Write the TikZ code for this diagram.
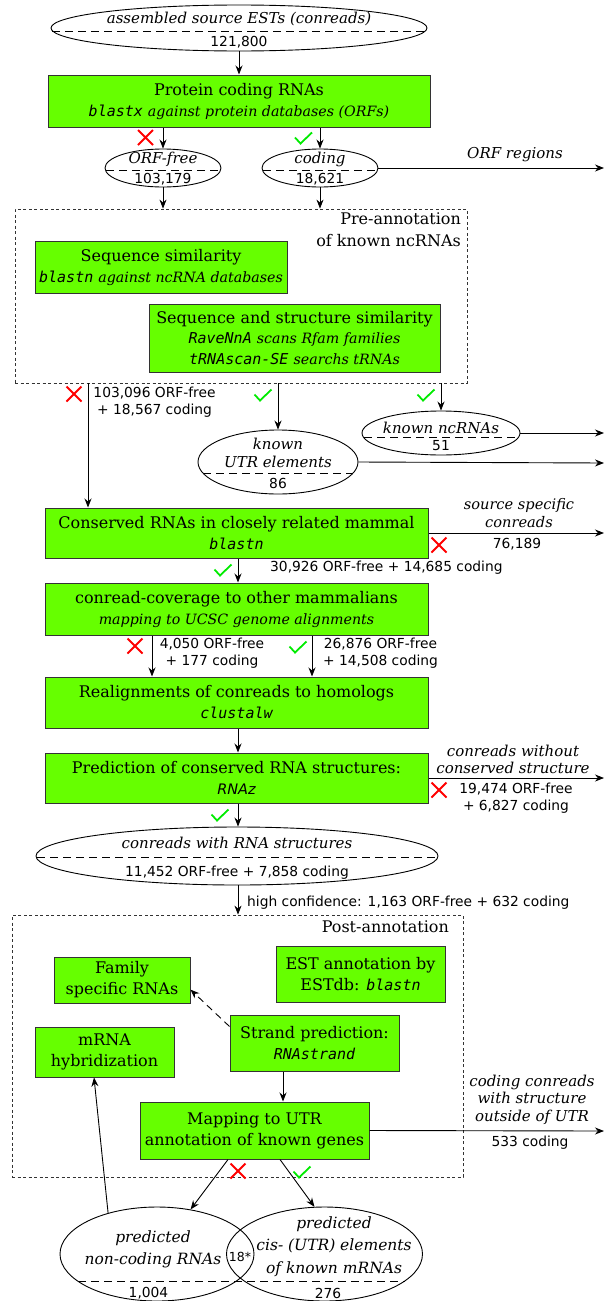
\documentclass[tikz,border=0pt]{standalone}
\usepackage{fontspec}
\setmainfont{DejaVu Serif}
\setsansfont{DejaVu Sans}
\setmonofont{DejaVu Sans Mono}
\usetikzlibrary{shapes.geometric,arrows.meta}
\definecolor{boxgreen}{RGB}{102,255,0}
\definecolor{xred}{RGB}{255,0,0}
\definecolor{okgreen}{RGB}{0,235,0}
\newcommand\tool[1]{{\fontsize{15}{18}\selectfont\ttfamily\itshape #1}}
\newcommand\subit[1]{{\fontsize{14.2}{18}\selectfont\itshape #1}}
\tikzset{
  gbox/.style={draw=black!80, fill=boxgreen, line width=1pt, align=center, inner sep=0pt,
    font=\fontsize{16}{21}\selectfont},
  ell/.style={draw, ellipse, line width=0.9pt, inner sep=0pt},
  frame/.style={draw=black!80, line width=0.8pt, dash pattern=on 3pt off 2.5pt},
  arr/.style={-{Stealth[length=9pt,width=7pt]}, line width=0.9pt},
  dashln/.style={line width=0.9pt, dash pattern=on 8pt off 5pt},
  itl/.style={font=\fontsize{15}{18}\selectfont\itshape, align=center, inner sep=0pt},
  num/.style={font=\fontsize{13.8}{17}\selectfont\sffamily, align=center, inner sep=0pt},
  lbl/.style={font=\fontsize{16}{22}\selectfont, align=right, inner sep=0pt},
  xmk/.pic={\draw[xred, line width=1.8pt] (-7.5,-7.5) -- (7.5,7.5) (-7.5,7.5) -- (7.5,-7.5);},
  okmk/.pic={\draw[okgreen, line width=1.8pt, line join=miter] (-8.5,-0.5) -- (-3,5.5) -- (8.5,-5.5);}
}
\begin{document}
\begin{tikzpicture}[x=1pt,y=-1pt]
\useasboundingbox (0,0) rectangle (604,1301);

% ---------- top ----------
\node[ell, minimum width=376, minimum height=46] (src) at (239,28) {};
\node[itl] (srct) at (239,19) {assembled source ESTs (conreads)};
\node[num] (srcn) at (239,42) {121,800};
\coordinate (srcdl) at (52,31); \coordinate (srcdr) at (426,31);
\draw[dashln] (srcdl) -- (srcdr);

\node[gbox, minimum width=382, minimum height=52] (prot) at (239,101)
  {Protein coding RNAs\\\tool{blastx} \subit{against protein databases (ORFs)}};
\draw[arr] (src) -- (prot);

\node[ell, minimum width=116, minimum height=38] (orffree) at (163,168) {};
\node[itl] (orffreet) at (163,159) {ORF-free};
\node[num] (orffreen) at (163,179) {103,179};
\coordinate (ofl) at (106,170); \coordinate (ofr) at (220,170);
\draw[dashln] (ofl) -- (ofr);

\node[ell, minimum width=116, minimum height=38] (coding) at (320,168) {};
\node[itl] (codingt) at (320,159) {coding};
\node[num] (codingn) at (320,179) {18,621};
\coordinate (cdl) at (263,170); \coordinate (cdr) at (377,170);
\draw[dashln] (cdl) -- (cdr);

\draw[arr] (orffree |- prot.south) -- (orffree.north);
\draw[arr] (coding |- prot.south) -- (coding.north);
\pic at (145.5,137.5) {xmk};
\pic at (303.5,138) {okmk};

\coordinate (orfend) at (604,168);
\draw[arr] (coding.east) -- (orfend);
\node[itl] (orfreg) at (515,155) {ORF regions};

% ---------- pre-annotation ----------
\node[frame, minimum width=452, minimum height=174] (pre) at (241,296) {};
\node[lbl, anchor=north east] (prel) at (461,213) {Pre-annotation\\of known ncRNAs};
\draw[arr] (orffree.south) -- (orffree |- pre.north);
\draw[arr] (coding.south) -- (coding |- pre.north);

\node[gbox, minimum width=252, minimum height=52] (seqsim) at (161,267)
  {Sequence similarity\\\tool{blastn} \subit{against ncRNA databases}};
\node[gbox, minimum width=291, minimum height=68, font=\fontsize{16}{20.5}\selectfont] (seqstr) at (294.5,338)
  {Sequence and structure similarity\\\tool{RaveNnA} \subit{scans Rfam families}\\\tool{tRNAscan-SE} \subit{searchs tRNAs}};

% known ncRNAs / UTR
\node[ell, minimum width=158, minimum height=44] (ncrna) at (441,433) {};
\node[itl] (ncrnat) at (441,428) {known ncRNAs};
\node[num] (ncrnan) at (441,446) {51};
\coordinate (ncl) at (364,437); \coordinate (ncr) at (518,437);
\draw[dashln] (ncl) -- (ncr);

\node[ell, minimum width=160, minimum height=64] (utr) at (278,462) {};
\node[itl] (utrt) at (278,453) {known\\UTR elements};
\node[num] (utrn) at (278,483) {86};
\coordinate (utl) at (203,473); \coordinate (utrr) at (353,473);
\draw[dashln] (utl) -- (utrr);

\draw[arr] (pre.south -| utr) -- (utr.north);
\draw[arr] (pre.south -| ncrna) -- (ncrna.north);
\pic at (263,395) {okmk};
\pic at (426,395) {okmk};
\coordinate (ncend) at (604,433);
\coordinate (utend) at (604,463);
\draw[arr] (ncrna.east) -- (ncend);
\draw[arr] (utr.east) -- (utend);

% ---------- conserved ----------
\node[gbox, minimum width=383, minimum height=50] (cons) at (236.5,533)
  {Conserved RNAs in closely related mammal\\\tool{blastn}};
\coordinate (xa) at (88,0);
\draw[arr] (pre.south -| xa) -- (cons.north -| xa);
\pic at (74,394) {xmk};
\node[num] (n1) at (154.5,402) {103,096 ORF-free\\+ 18,567 coding};

\coordinate (consend) at (604,533);
\draw[arr] (cons.east) -- (consend);
\node[itl, font=\fontsize{14.6}{18}\selectfont\itshape] (srcspec) at (519,513) {source specific\\conreads};
\node[num] (n2) at (517,544) {76,189};
\pic at (439,545) {xmk};

\node[gbox, minimum width=383, minimum height=52] (cov) at (236.5,609)
  {conread-coverage to other mammalians\\\subit{mapping to UCSC genome alignments}};
\coordinate (xb) at (238,0);
\draw[arr] (cons.south -| xb) -- (cov.north -| xb);
\pic at (223,570) {okmk};
\node[num, anchor=west] (n3) at (270,568) {30,926 ORF-free + 14,685 coding};

\node[gbox, minimum width=383, minimum height=51] (realign) at (236.5,702.5)
  {Realignments of conreads to homologs\\\tool{clustalw}};
\coordinate (xl) at (152,0); \coordinate (xr) at (312,0);
\draw[arr] (cov.south -| xl) -- (realign.north -| xl);
\draw[arr] (cov.south -| xr) -- (realign.north -| xr);
\pic at (135,646) {xmk};
\pic at (298,647) {okmk};
\node[num] (n4) at (212,653.5) {4,050 ORF-free\\+ 177 coding};
\node[num] (n5) at (380.5,653.5) {26,876 ORF-free\\+ 14,508 coding};

\node[gbox, minimum width=383, minimum height=50] (pred) at (236.5,778)
  {Prediction of conserved RNA structures:\\{\fontsize{14.5}{18}\selectfont\sffamily\itshape RNAz}};
\draw[arr] (realign.south -| xb) -- (pred.north -| xb);
\coordinate (predend) at (604,778);
\draw[arr] (pred.east) -- (predend);
\node[itl, font=\fontsize{15}{17}\selectfont\itshape] (nocons) at (513,759.5) {conreads without\\conserved structure};
\pic at (439,790) {xmk};
\node[num] (n6) at (516,798.5) {19,474 ORF-free\\+ 6,827 coding};

\node[ell, minimum width=402, minimum height=58] (rnastr) at (237,856) {};
\node[itl] (rnastrt) at (237,843) {conreads with RNA structures};
\node[num] (rnastrn) at (237,873) {11,452 ORF-free + 7,858 coding};
\coordinate (rsl) at (37,857); \coordinate (rsr) at (437,857);
\draw[dashln] (rsl) -- (rsr);
\draw[arr] (pred.south -| xb) -- (rnastr.north -| xb);
\pic at (220,815) {okmk};

% ---------- post-annotation ----------
\node[frame, minimum width=451, minimum height=262] (post) at (237.5,1046) {};
\node[lbl, anchor=north east] (postl) at (449,921) {Post-annotation};
\draw[arr] (rnastr.south -| xb) -- (post.north -| xb);
\node[num, anchor=west] (n7) at (247,903) {high confidence: 1,163 ORF-free + 632 coding};

\node[gbox, minimum width=169, minimum height=56] (est) at (360.5,974)
  {EST annotation by\\ESTdb: \tool{blastn}};
\node[gbox, minimum width=136, minimum height=46] (fam) at (122,980)
  {Family\\specific RNAs};
\node[gbox, minimum width=139, minimum height=50] (mrna) at (104.5,1052)
  {mRNA\\hybridization};
\node[gbox, minimum width=169, minimum height=56] (strand) at (314.5,1043)
  {Strand prediction:\\\tool{RNAstrand}};
\node[gbox, minimum width=229, minimum height=57] (map) at (254.5,1130.5)
  {Mapping to UTR\\annotation of known genes};

\draw[arr, dash pattern=on 7pt off 5pt] (strand.169) -- (fam.-8);
\coordinate (xc) at (283,0);
\draw[arr] (strand.south -| xc) -- (map.north -| xc);
\coordinate (mapend) at (604,1131);
\draw[arr] (map.east) -- (mapend);
\node[itl, font=\fontsize{15}{17.5}\selectfont\itshape] (oututr) at (532,1099.5) {coding conreads\\with structure\\outside of UTR};
\node[num] (n8) at (530,1143) {533 coding};

% ---------- Venn ----------
\node[ell, minimum width=194, minimum height=94] (vennL) at (157,1254) {};
\node[ell, minimum width=196, minimum height=94] (vennR) at (324.5,1254) {};
\node[itl, font=\fontsize{15.5}{22}\selectfont\itshape] (vennLt) at (153,1249) {predicted\\non-coding RNAs};
\node[itl, font=\fontsize{15.5}{22.5}\selectfont\itshape] (vennRt) at (334,1246.5) {predicted\\cis- (UTR) elements\\of known mRNAs};
\node[num, font=\fontsize{12.5}{15}\selectfont\sffamily] (ov) at (240,1257) {18*};
\coordinate (vdl) at (78,1281); \coordinate (vdr) at (405,1281);
\draw[dashln] (vdl) -- (vdr);
\node[num] (vLn) at (148.5,1293) {1,004};
\node[num] (vRn) at (328,1293) {276};

\coordinate (xd) at (228,0); \coordinate (xe) at (280,0);
\draw[arr] (map.south -| xd) -- (vennL.53);
\draw[arr] (map.south -| xe) -- (vennR.102);
\pic at (238,1171) {xmk};
\pic at (302,1172) {okmk};
\coordinate (xf) at (94,0);
\draw[arr] (vennL.140) -- (mrna.south -| xf);
\end{tikzpicture}
\end{document}
